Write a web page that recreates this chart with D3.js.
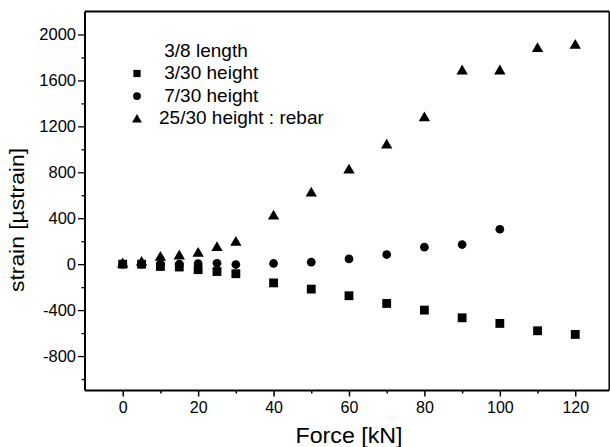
<!DOCTYPE html>
<html><head><meta charset="utf-8">
<script src="https://cdn.jsdelivr.net/npm/d3@7"></script>
<style>
body{margin:0;background:#fff}
svg text{font-family:"Liberation Sans",Arial,Helvetica,sans-serif;fill:#000}
</style>
</head><body><svg id="c" width="610" height="447"></svg>
<script>
// ---- data ----
const force      = [0, 5, 10, 15, 20, 25, 30, 40, 50, 60, 70, 80, 90, 100, 110, 120];
const h3_30      = [0, 0, -20, -25, -48, -64, -83, -163, -217, -275, -342, -400, -467, -516, -580, -612];
const force7     = [0, 5, 10, 15, 20, 25, 30, 40, 50, 60, 70, 80, 90, 100];
const h7_30      = [0, 0, 0, 0, 4, 8, -3, 6, 17, 46, 84, 148, 171, 304];
const h25_30     = [0, 15, 58, 70, 93, 143, 188, 417, 617, 817, 1035, 1272, 1681, 1681, 1875, 1904];
const legendTitle = " 3/8 length";
const seriesNames = [" 3/30 height", " 7/30 height", "25/30 height : rebar"];
const xTicks = [0, 20, 40, 60, 80, 100, 120];
const xMinor = [10, 30, 50, 70, 90, 110];
const yTicks = [-800, -400, 0, 400, 800, 1200, 1600, 2000];
const yMinor = [-1000, -600, -200, 200, 600, 1000, 1400, 1800];
const xTitle = "Force [kN]";
const yTitle = "strain [\u00b5strain]";

// ---- scales ----
const svg = d3.select("#c");
const x = d3.scaleLinear().domain([-10, 129]).range([85, 609.2]);
const y = d3.scaleLinear().domain([-1100, 2200]).range([390.5, 11.5]);
const fmt = d => String(d);   // plain hyphen minus as in the reference

svg.append("rect").attr("width", 610).attr("height", 447).attr("fill", "#fff");

// frame
const [x0, x1] = x.range(), [y0, y1] = y.range();
svg.append("line").attr("x1", x0).attr("x2", x1).attr("y1", y1).attr("y2", y1).attr("stroke", "#000").attr("stroke-width", 2);
svg.append("line").attr("x1", x1).attr("x2", x1).attr("y1", y1).attr("y2", y0).attr("stroke", "#000").attr("stroke-width", 1.5);

// axes
const xAxis = d3.axisBottom(x).tickValues(xTicks).tickSize(6).tickPadding(5).tickFormat(fmt);
const gx = svg.append("g").attr("transform", `translate(0,${y0})`).call(xAxis);
gx.select(".domain").attr("stroke-width", 2).attr("d", `M${x0},0H${x1}`);
gx.selectAll(".tick line").attr("stroke-width", 1.5);
gx.selectAll(".tick text").attr("font-size", 16).attr("font-family", "Liberation Sans, Arial, sans-serif");
const gxm = svg.append("g").attr("transform", `translate(0,${y0})`)
  .call(d3.axisBottom(x).tickValues(xMinor).tickSize(3).tickFormat(""));
gxm.select(".domain").remove();
gxm.selectAll(".tick line").attr("stroke-width", 1.5);

const yAxis = d3.axisLeft(y).tickValues(yTicks).tickSize(7).tickPadding(2).tickFormat(fmt);
const gy = svg.append("g").attr("transform", `translate(${x0},0)`).call(yAxis);
gy.select(".domain").attr("stroke-width", 2).attr("d", `M0,${y1}V${y0}`);
gy.selectAll(".tick line").attr("stroke-width", 1.3);
gy.selectAll(".tick text").attr("font-size", 16.5).attr("font-family", "Liberation Sans, Arial, sans-serif");
const gym = svg.append("g").attr("transform", `translate(${x0},0)`)
  .call(d3.axisLeft(y).tickValues(yMinor).tickSize(3.5).tickFormat(""));
gym.select(".domain").remove();
gym.selectAll(".tick line").attr("stroke-width", 1.3);

// titles
svg.append("text").attr("x", 349).attr("y", 443).attr("text-anchor", "middle")
  .attr("font-size", 21.5).attr("textLength", 107).attr("lengthAdjust", "spacingAndGlyphs").text(xTitle);
svg.append("text").attr("transform", `translate(24,220) rotate(-90)`)
  .attr("text-anchor", "middle").attr("font-size", 21)
  .attr("textLength", 144).attr("lengthAdjust", "spacingAndGlyphs").text(yTitle);

// symbols
const sq = d3.symbol().type(d3.symbolSquare).size(78)();
const ci = d3.symbol().type(d3.symbolCircle).size(60)();
const tri = d3.symbol().type(d3.symbolTriangle).size(56)();

const series = [
  {xs: force, ys: h25_30, path: tri},
  {xs: force7, ys: h7_30, path: ci},
  {xs: force, ys: h3_30, path: sq}
];
series.forEach(s => {
  svg.append("g").selectAll("path").data(s.xs.map((f, i) => [f, s.ys[i]])).join("path")
    .attr("d", s.path).attr("fill", "#000")
    .attr("transform", d => `translate(${x(d[0])},${y(d[1])})`);
});

// legend
const leg = svg.append("g");
leg.append("text").attr("x", 159).attr("y", 57).attr("font-size", 19)
  .attr("xml:space", "preserve").style("white-space", "pre").text(legendTitle);
const legSyms = [
  d3.symbol().type(d3.symbolSquare).size(52)(),
  d3.symbol().type(d3.symbolCircle).size(48)(),
  d3.symbol().type(d3.symbolTriangle).size(42)()
];
seriesNames.forEach((n, i) => {
  const by = 79 + i * 22.6;
  leg.append("path").attr("d", legSyms[i]).attr("fill", "#000")
    .attr("transform", `translate(137,${by - 5.5 + (i === 2 ? 1 : 0)})`);
  leg.append("text").attr("x", 159).attr("y", by).attr("font-size", 19)
    .attr("xml:space", "preserve").style("white-space", "pre").text(n);
});
</script>
</body></html>
